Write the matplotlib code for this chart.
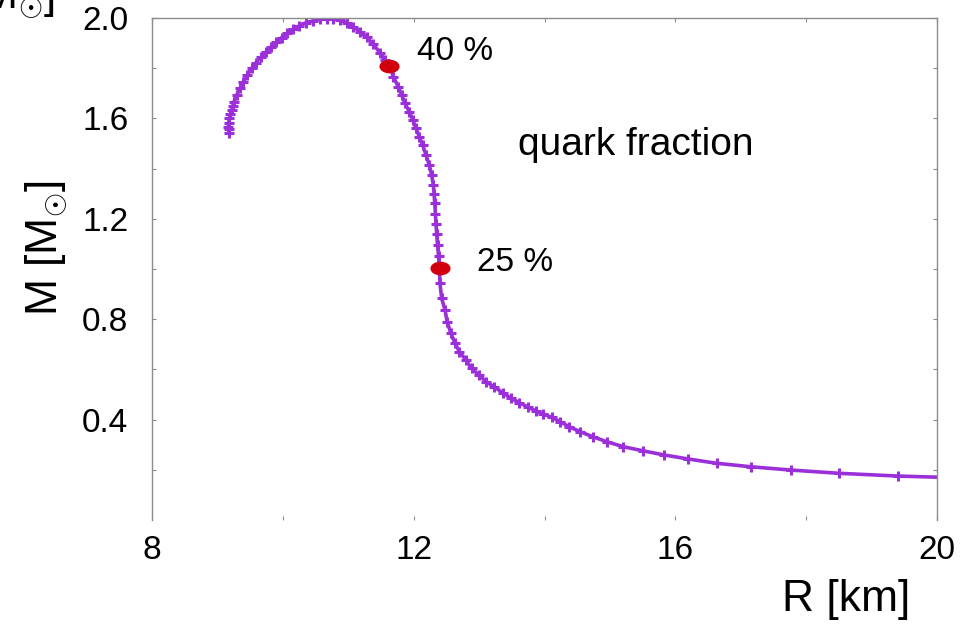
import matplotlib
matplotlib.use("Agg")
import matplotlib.pyplot as plt
from matplotlib.path import Path
from matplotlib.ticker import FixedLocator

plt.rcParams['font.family'] = ['Liberation Sans', 'DejaVu Sans']
plt.rcParams['mathtext.fontset'] = 'custom'
plt.rcParams['mathtext.rm'] = 'Liberation Sans'
plt.rcParams['mathtext.it'] = 'Liberation Sans'

# Mass-radius sequence (R in km, M in solar masses)
radius_km = [
    9.182, 9.172, 9.167, 9.172, 9.182, 9.195, 9.218, 9.235, 9.253, 9.294,
    9.345, 9.396, 9.457, 9.524, 9.590, 9.661, 9.738, 9.814, 9.895, 9.982,
    10.068, 10.160, 10.252, 10.354, 10.466, 10.568, 10.670, 10.772, 10.874,
    10.976, 11.077, 11.180, 11.282, 11.383, 11.485, 11.562, 11.638, 11.689,
    11.765, 11.817, 11.867, 11.933, 11.985, 12.035, 12.086, 12.138, 12.188,
    12.239, 12.275, 12.300, 12.312, 12.322, 12.332, 12.341, 12.352, 12.365,
    12.380, 12.392, 12.402, 12.428, 12.479, 12.512, 12.566, 12.632, 12.698,
    12.800, 12.887, 12.998, 13.106, 13.228, 13.361, 13.488, 13.615, 13.743,
    13.865, 13.982, 14.110, 14.237, 14.374, 14.542, 14.736, 14.950, 15.205,
    15.500, 15.831, 16.198, 16.631, 17.156, 17.767, 18.506, 19.408, 20.350,
]
mass_msun = [
    1.543, 1.556, 1.567, 1.583, 1.600, 1.616, 1.633, 1.650, 1.667, 1.693,
    1.720, 1.746, 1.773, 1.800, 1.822, 1.843, 1.863, 1.883, 1.903, 1.922,
    1.939, 1.955, 1.969, 1.981, 1.989, 1.996, 1.998, 1.997, 1.992,
    1.981, 1.965, 1.946, 1.923, 1.895, 1.862, 1.833, 1.806, 1.766,
    1.726, 1.693, 1.660, 1.627, 1.594, 1.561, 1.527, 1.494, 1.454,
    1.414, 1.375, 1.335, 1.300, 1.262, 1.220, 1.180, 1.140, 1.096,
    1.052, 1.009, 0.943, 0.883, 0.837, 0.790, 0.746, 0.704, 0.671,
    0.637, 0.604, 0.578, 0.551, 0.531, 0.507, 0.485, 0.467, 0.451,
    0.435, 0.422, 0.409, 0.392, 0.372, 0.352, 0.332, 0.312, 0.292,
    0.276, 0.259, 0.243, 0.226, 0.212, 0.199, 0.186, 0.175, 0.168,
]

# Stars at which the quark fraction is marked
fraction_labels = ["40 %", "25 %"]
fraction_radius = [11.63, 12.40]
fraction_mass = [1.81, 1.005]

x_major = [8, 12, 16, 20]
x_minor = [10, 14, 18]
y_major = [0.4, 0.8, 1.2, 1.6, 2.0]
y_minor = [0.2, 0.6, 1.0, 1.4, 1.8]

purple = '#9B2FDA'
red = '#D2000E'
spine_gray = '#8c8c8c'

fig = plt.figure(figsize=(9.63, 6.29), dpi=100)
ax = fig.add_axes([152 / 963, 1 - 520 / 629, 785 / 963, 502 / 629])

ax.plot(radius_km, mass_msun, color=purple, lw=2.6, marker='+',
        markersize=6.5, markeredgewidth=2.2, zorder=2)

# flattened ellipse marker for the labelled stars
circle = Path.unit_circle()
ellipse = Path(circle.vertices * [1.0, 0.68], circle.codes)
ax.plot(fraction_radius, fraction_mass, linestyle='none', marker=ellipse,
        markersize=14.5, color=red, markeredgewidth=0, zorder=3)

label_offsets = [(0.42, 0.055), (0.57, 0.022)]
for lab, r, m, (dx, dy) in zip(fraction_labels, fraction_radius, fraction_mass,
                               label_offsets):
    ax.text(r + dx, m + dy, lab, fontsize=24, ha='left', va='center')

ax.text(13.6, 1.494, 'quark fraction', fontsize=28, ha='left', va='center')

ax.set_xlim(8, 20)
ax.set_ylim(0, 2.0)
ax.xaxis.set_major_locator(FixedLocator(x_major))
ax.xaxis.set_minor_locator(FixedLocator(x_minor))
ax.yaxis.set_major_locator(FixedLocator(y_major))
ax.yaxis.set_minor_locator(FixedLocator(y_minor))
ax.set_xticklabels([str(v) for v in x_major])
ax.set_yticklabels([f"{v:.1f}" for v in y_major])

for side in ('left', 'top', 'right'):
    ax.spines[side].set_color(spine_gray)
    ax.spines[side].set_linewidth(1.0)
ax.spines['bottom'].set_visible(False)

ax.tick_params(which='both', direction='in', length=3, width=0.8,
               color=spine_gray, top=True, right=True)
ax.tick_params(axis='x', which='major', labelsize=24, pad=11)
ax.tick_params(axis='y', which='major', labelsize=24, pad=17)

fig.text(910 / 963, 1 - 600 / 629, 'R [km]', fontsize=32,
         ha='right', va='center')
fig.text(47 / 963, 1 - 248 / 629, r'M [M$_{\odot}$]', fontsize=32,
         rotation=90, ha='center', va='center')
# label of the panel above, cut by the top edge
fig.text(55 / 963, 1 - 9 / 629, r'M [M$_{\odot}$]', fontsize=32,
         ha='right', va='baseline')

fig.savefig('out.png', dpi=100)
